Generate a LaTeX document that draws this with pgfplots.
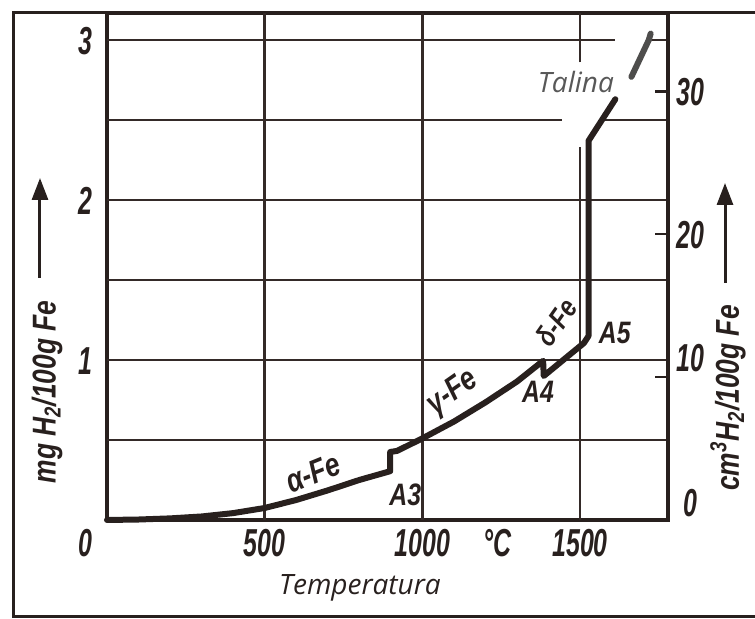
\documentclass[border=0pt]{standalone}
\usepackage{fontspec}
\setmainfont{Liberation Sans}
\usepackage{pgfplots}
\pgfplotsset{compat=1.18}
\usetikzlibrary{arrows.meta}
\newfontfamily\tickfont[FakeStretch=0.64]{Liberation Sans}
\newfontfamily\labfont[FakeStretch=0.8]{Liberation Sans}
\newfontfamily\osans{Open Sans}
\definecolor{ink}{RGB}{40,32,30}
\definecolor{gridc}{RGB}{52,42,40}
\definecolor{talgray}{RGB}{88,88,88}
\newcommand{\tf}{\tickfont\bfseries\itshape\fontsize{19.5}{21}\selectfont}
\newcommand{\cf}{\labfont\bfseries\itshape\fontsize{16.5}{18}\selectfont}
\newcommand{\smf}{\labfont\bfseries\itshape\fontsize{14.5}{16}\selectfont}
\newcommand{\af}{\labfont\bfseries\itshape\fontsize{15.5}{17}\selectfont}
\begin{document}
\begin{tikzpicture}
\path[use as bounding box] (-53.5pt,-49.5pt) rectangle (324pt,260pt);
% outer frame
\draw[ink, line width=1.5pt] (420pt,253.5pt) -- (-46.5pt,253.5pt) -- (-46.5pt,-48.5pt) -- (420pt,-48.5pt);
\begin{axis}[
  at={(0,0)}, anchor=south west,
  scale only axis, width=280.5pt, height=253.5pt,
  xmin=0, xmax=1779, ymin=0, ymax=3.169,
  axis line style={ink, line width=1.6pt},
  xtick={500,1000,1500}, xticklabels={500,1000,1500},
  ytick={0,1,2,3}, yticklabels={\raisebox{-11.5pt}{0},1,2,3},
  major tick length=0pt, tick style={draw=none},
  xticklabel style={font=\tf, text=ink, anchor=base, yshift=-18.5pt},
  yticklabel style={font=\tf, text=ink, anchor=base, xshift=-11pt, yshift=-7pt},
  clip=false,
]
% grid lines
\begin{scope}[gridc, line width=1.4pt]
\draw (axis cs:500,0) -- (axis cs:500,3.169);
\draw (axis cs:1000,0) -- (axis cs:1000,3.169);
\draw (axis cs:1500,0) -- (axis cs:1500,2.33);
\draw (axis cs:1500,2.86) -- (axis cs:1500,3.169);
\draw (axis cs:0,0.5) -- (axis cs:1779,0.5);
\draw (axis cs:0,1) -- (axis cs:1779,1);
\draw (axis cs:0,1.5) -- (axis cs:1779,1.5);
\draw (axis cs:0,2) -- (axis cs:1779,2);
\draw (axis cs:0,2.5) -- (axis cs:1443,2.5);
\draw (axis cs:1579,2.5) -- (axis cs:1779,2.5);
\draw (axis cs:0,3) -- (axis cs:1610,3);
\draw (axis cs:1721,3) -- (axis cs:1779,3);
\end{scope}
% solubility curve
\addplot[ink, line width=3pt, line join=round, line cap=round] coordinates {
(0,0) (100,0.003) (200,0.01) (300,0.022) (400,0.043) (500,0.075) (600,0.125)
(700,0.185) (800,0.25) (898,0.305) (898,0.425) (920,0.432) (1000,0.51)
(1100,0.615) (1200,0.735) (1300,0.865) (1383,0.995) (1385,0.9)
(1490,1.07) (1512,1.105) (1527,1.15) (1527,2.37) (1612,2.63)
};
\addplot[talgray!80!ink, line width=3pt, line cap=round] coordinates {
(1663,2.77) (1718,3.0) (1724,3.04)
};
% curve labels
\node[font=\cf, text=ink, rotate=22, inner sep=1pt] at (axis cs:653,0.294) {α-Fe};
\node[font=\af, text=ink, inner sep=1pt] at (axis cs:946,0.156) {A3};
\node[font=\cf, text=ink, rotate=35, inner sep=1pt] at (axis cs:1097,0.794) {γ-Fe};
\node[font=\af, text=ink, inner sep=1pt] at (axis cs:1367,0.80) {A4};
\node[font=\smf, text=ink, rotate=55, inner sep=0pt] at (axis cs:1424,1.235) {δ-Fe};
\node[font=\af, text=ink, inner sep=1pt] at (axis cs:1610,1.169) {A5};
\node[font=\osans\itshape\fontsize{14}{16}\selectfont, text=talgray, anchor=base] at (axis cs:1487,2.675) {Talina};
\node[font=\tf, text=ink, anchor=base, yshift=-18.5pt] at (axis cs:1237,0) {°C};
\node[font=\osans\itshape\fontsize{14}{16}\selectfont, text=ink, anchor=base, yshift=-37.5pt] at (axis cs:802,0) {Temperatura};
\end{axis}
\begin{axis}[
  at={(0,0)}, anchor=south west,
  scale only axis, width=280.5pt, height=253.5pt,
  xmin=0, xmax=1779, ymin=0, ymax=35.49,
  axis x line=none, axis y line*=right,
  axis line style={ink, line width=1.6pt},
  ytick={0,10,20,30}, yticklabels={\raisebox{8.5pt}{0},\raisebox{10pt}{10},20,30},
  tick align=inside, major tick length=6.5pt,
  tick style={ink, line width=1.2pt},
  yticklabel style={font=\tf, text=ink, anchor=base, xshift=11pt, yshift=-7pt},
]
\end{axis}
% axis labels and arrows
\draw[ink, line width=1.5pt, -{Triangle[length=11pt,width=8pt]}] (-33.5pt,121pt) -- (-33.5pt,171pt);
\draw[ink, line width=1.5pt, -{Triangle[length=11pt,width=8pt]}] (309pt,118.5pt) -- (309pt,168.5pt);
\node[rotate=90, font=\cf, text=ink] at (-30pt,64pt) {mg H\textsubscript{2}/100g Fe};
\node[rotate=90, font=\cf, text=ink] at (310.5pt,61pt) {cm\textsuperscript{3}H\textsubscript{2}/100g Fe};
\end{tikzpicture}
\end{document}
